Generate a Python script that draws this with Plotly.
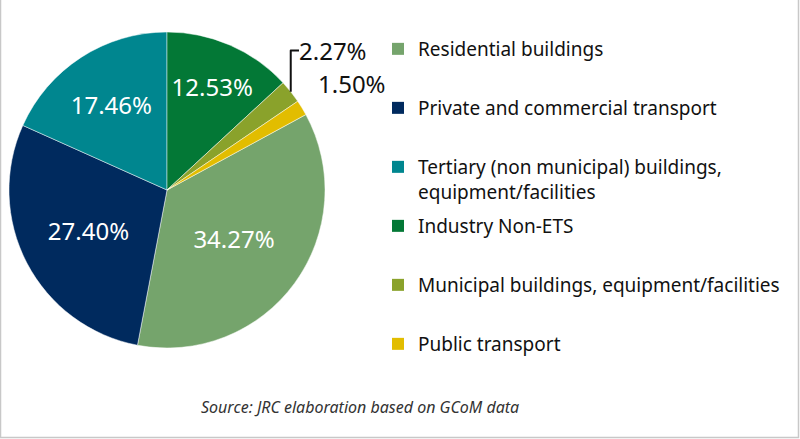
import plotly.graph_objects as go

# data (legend order)
labels = ["Residential buildings", "Private and commercial transport",
          "Tertiary (non municipal) buildings,<br>equipment/facilities",
          "Industry Non-ETS", "Municipal buildings, equipment/facilities",
          "Public transport"]
shares = [34.27, 27.40, 17.46, 12.53, 2.27, 1.50]
colors = ["#75a46c", "#002a5e", "#00868f", "#037836", "#8aa22b", "#e2bd00"]
text_pos = ["inside", "inside", "inside", "inside", "outside", "outside"]

W, H = 800, 439
FONT = "Noto Sans"

# first slice (Residential) starts after Industry + Municipal + Public, clockwise from 12 o'clock
start = sum(shares[3:]) / sum(shares) * 360

pct = [f"{v:.2f}%" for v in shares]
# the smallest slice label gets an empty line underneath to lift it
pct[-1] = pct[-1] + "<br>&nbsp;"

fig = go.Figure()

fig.add_trace(go.Pie(
    labels=labels, values=shares, sort=False,
    direction="clockwise", rotation=start,
    marker=dict(colors=colors, line=dict(color="rgba(255,255,255,0.6)", width=0.8)),
    text=pct,
    textinfo="text", textposition=text_pos,
    insidetextorientation="horizontal",
    insidetextfont=dict(color="white", size=24, family=FONT),
    outsidetextfont=dict(color="#111111", size=24, family=FONT),
    showlegend=False,
    domain=dict(x=[9 / W, 325 / W], y=[1 - 348 / H, 1 - 32 / H]),
))

# legend entries (one group each so the spacing can be set)
for name, c in zip(labels, colors):
    lab = name if "<br>" in name else name + "<br>&nbsp;"
    fig.add_trace(go.Scatter(
        x=[None], y=[None], mode="markers", name=lab,
        marker=dict(symbol="square", size=12, color=c),
        legendgroup=name, showlegend=True,
    ))

fig.add_annotation(
    text="<i>Source: JRC elaboration based on GCoM data</i>",
    xref="paper", yref="paper", x=360 / W, y=1 - 420 / H,
    showarrow=False, font=dict(size=16, color="#333333", family=FONT),
)

# light grey frame
fig.add_shape(type="rect", xref="paper", yref="paper",
              x0=0.5 / W, x1=798.5 / W, y0=1 - 437.5 / H, y1=1.05,
              line=dict(color="#c8c8c8", width=1.5), fillcolor="rgba(0,0,0,0)")

fig.update_layout(
    width=W, height=H,
    margin=dict(l=0, r=0, t=0, b=0),
    paper_bgcolor="white", plot_bgcolor="white",
    xaxis=dict(visible=False), yaxis=dict(visible=False),
    font=dict(family=FONT, color="#111111"),
    legend=dict(
        x=378 / W, xanchor="left", y=1 - 30 / H, yanchor="top",
        font=dict(size=19, family=FONT, color="#111111"),
        valign="top", tracegroupgap=6.6, bgcolor="rgba(0,0,0,0)",
    ),
)

fig.write_html("out.html", config={"displayModeBar": False},
               post_script="document.body.style.margin='0';")
